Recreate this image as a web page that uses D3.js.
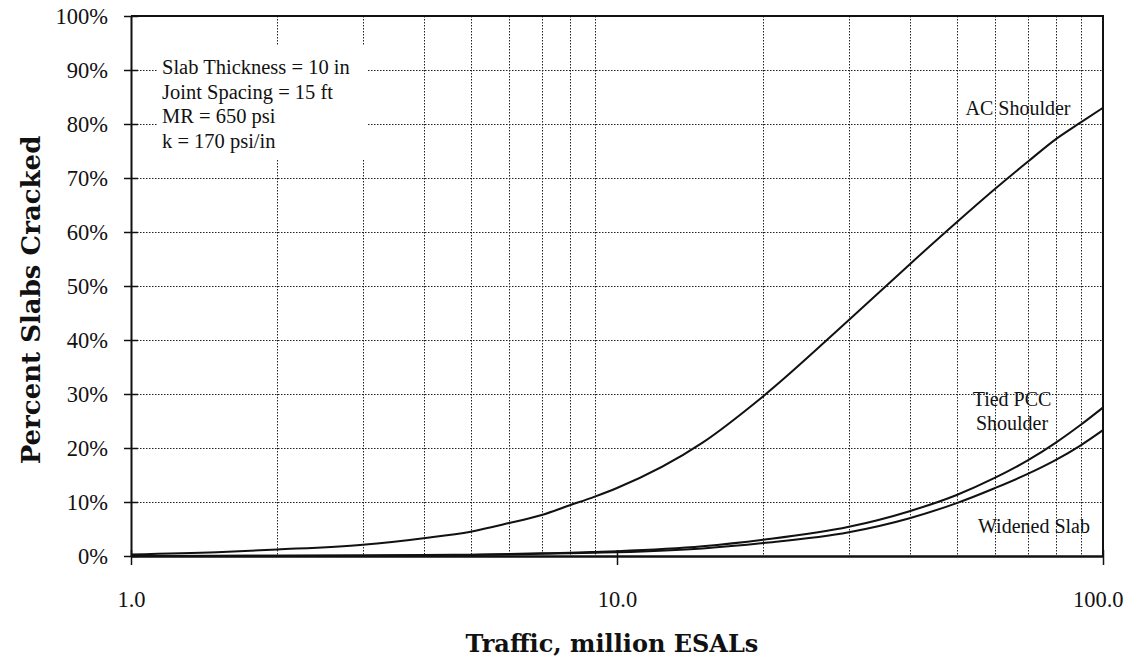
<!DOCTYPE html>
<html>
<head>
<meta charset="utf-8">
<script src="https://cdn.jsdelivr.net/npm/d3@7"></script>
<style>
  html, body { margin: 0; padding: 0; background: #fff; }
  svg { display: block; }
</style>
</head>
<body>
<svg id="chart" width="1126" height="663"></svg>
<script>
// Traffic (million ESALs) at which the cracking curves are sampled
const traffic = [1, 1.5, 2, 3, 4, 5, 6, 7, 8, 9, 10, 15, 20, 30, 40, 50, 60, 70, 80, 90, 100];

// Percent slabs cracked (fraction) for each shoulder type
const acShoulder   = [0.003, 0.007, 0.012, 0.021, 0.033, 0.045, 0.061, 0.076, 0.094, 0.110, 0.126, 0.21, 0.296, 0.437, 0.54, 0.618, 0.68, 0.73, 0.772, 0.803, 0.83];
const tiedPCC      = [0.0, 0.0003, 0.0005, 0.001, 0.0017, 0.0025, 0.0035, 0.005, 0.006, 0.0075, 0.009, 0.018, 0.030, 0.054, 0.083, 0.113, 0.145, 0.177, 0.21, 0.243, 0.275];
const widenedSlab  = [0.0, 0.0002, 0.0003, 0.0008, 0.0013, 0.002, 0.003, 0.004, 0.005, 0.006, 0.007, 0.014, 0.024, 0.044, 0.07, 0.098, 0.126, 0.152, 0.178, 0.205, 0.233];

const yTicks = [0, 0.1, 0.2, 0.3, 0.4, 0.5, 0.6, 0.7, 0.8, 0.9, 1.0];
const xTicks = [1, 10, 100];
const xGrid = [2, 3, 4, 5, 6, 7, 8, 9, 20, 30, 40, 50, 60, 70, 80, 90];

const notes = ["Slab Thickness = 10 in", "Joint Spacing = 15 ft", "MR = 650 psi", "k = 170 psi/in"];

const svg = d3.select("#chart");
const plotLeft = 131, plotRight = 1103, plotTop = 16, plotBottom = 556;

const x = d3.scaleLog().domain([1, 100]).range([plotLeft, plotRight]);
const y = d3.scaleLinear().domain([0, 1]).range([plotBottom, plotTop]);

const serif = "'Liberation Serif', 'Times New Roman', serif";
const titleFont = "'DejaVu Serif', serif";

// dotted grid
const grid = svg.append("g").attr("stroke", "#222").attr("stroke-width", 1)
  .attr("stroke-dasharray", "1.5,1.5").attr("fill", "none");
grid.selectAll("line.h").data(yTicks.filter(d => d > 0 && d < 1)).join("line")
  .attr("class", "h")
  .attr("x1", plotLeft).attr("x2", plotRight)
  .attr("y1", d => Math.round(y(d)) + 0.5).attr("y2", d => Math.round(y(d)) + 0.5);
grid.selectAll("line.v").data(xGrid).join("line")
  .attr("class", "v")
  .attr("x1", d => Math.round(x(d)) + 0.5).attr("x2", d => Math.round(x(d)) + 0.5)
  .attr("y1", plotTop).attr("y2", plotBottom);

// white panel behind the design inputs
svg.append("rect").attr("x", 157).attr("y", 45).attr("width", 210).attr("height", 115).attr("fill", "#fff");

const noteText = svg.append("text")
  .attr("font-family", serif).attr("font-size", 20.5).attr("fill", "#111");
noteText.selectAll("tspan").data(notes).join("tspan")
  .attr("x", 162).attr("y", (d, i) => 74 + i * 24.5).text(d => d);

// frame: top and right borders
svg.append("path")
  .attr("d", `M${plotLeft},${plotTop}H${plotRight}V${plotBottom}`)
  .attr("fill", "none").attr("stroke", "#111").attr("stroke-width", 2);

// axes
const yAxis = d3.axisLeft(y).tickValues(yTicks).tickFormat(d3.format(".0%"))
  .tickSizeInner(7).tickSizeOuter(0).tickPadding(16);
const gy = svg.append("g").attr("transform", `translate(${plotLeft},0)`).call(yAxis);
gy.select(".domain").attr("stroke", "#111").attr("stroke-width", 2);
gy.selectAll(".tick line").attr("x1", 7).attr("stroke", "#111").attr("stroke-width", 1.5);
gy.selectAll(".tick text").attr("font-family", serif).attr("font-size", 22.5).attr("fill", "#111");

const xAxis = d3.axisBottom(x).tickValues(xTicks).tickFormat(d3.format(".1f"))
  .tickSizeInner(9).tickSizeOuter(0).tickPadding(26);
const gx = svg.append("g").attr("transform", `translate(0,${plotBottom})`).call(xAxis);
gx.select(".domain").attr("stroke", "#111").attr("stroke-width", 2.5);
gx.selectAll(".tick line").attr("y1", -6).attr("stroke", "#111").attr("stroke-width", 1.5);
gx.selectAll(".tick text").attr("font-family", serif).attr("font-size", 22.5).attr("fill", "#111");
// keep the last label inside the page edge
gx.selectAll(".tick text").filter(d => d === 100).attr("text-anchor", "end").attr("dx", 20);

// cracking curves
const line = d3.line().x(d => x(d[0])).y(d => y(d[1])).curve(d3.curveMonotoneX);
const series = [acShoulder, tiedPCC, widenedSlab];
svg.append("g").attr("fill", "none").attr("stroke", "#111").attr("stroke-width", 2)
  .selectAll("path").data(series).join("path")
  .attr("d", s => line(traffic.map((t, i) => [t, s[i]])));

// curve labels
const labels = svg.append("g").attr("font-family", serif).attr("font-size", 20).attr("fill", "#111");
labels.append("text").attr("x", 1018).attr("y", 115).attr("text-anchor", "middle").text("AC Shoulder");
labels.append("text").attr("x", 1012).attr("y", 406).attr("text-anchor", "middle").text("Tied PCC");
labels.append("text").attr("x", 1012).attr("y", 430).attr("text-anchor", "middle").text("Shoulder");
labels.append("text").attr("x", 1034).attr("y", 533).attr("text-anchor", "middle").text("Widened Slab");

// axis titles
svg.append("text").attr("x", 612).attr("y", 652).attr("text-anchor", "middle")
  .attr("font-family", titleFont).attr("font-weight", "bold").attr("font-size", 24).attr("fill", "#111")
  .text("Traffic, million ESALs");
svg.append("text").attr("transform", "translate(40,300) rotate(-90)").attr("text-anchor", "middle")
  .attr("font-family", titleFont).attr("font-weight", "bold").attr("font-size", 26).attr("fill", "#111")
  .text("Percent Slabs Cracked");
</script>
</body>
</html>
